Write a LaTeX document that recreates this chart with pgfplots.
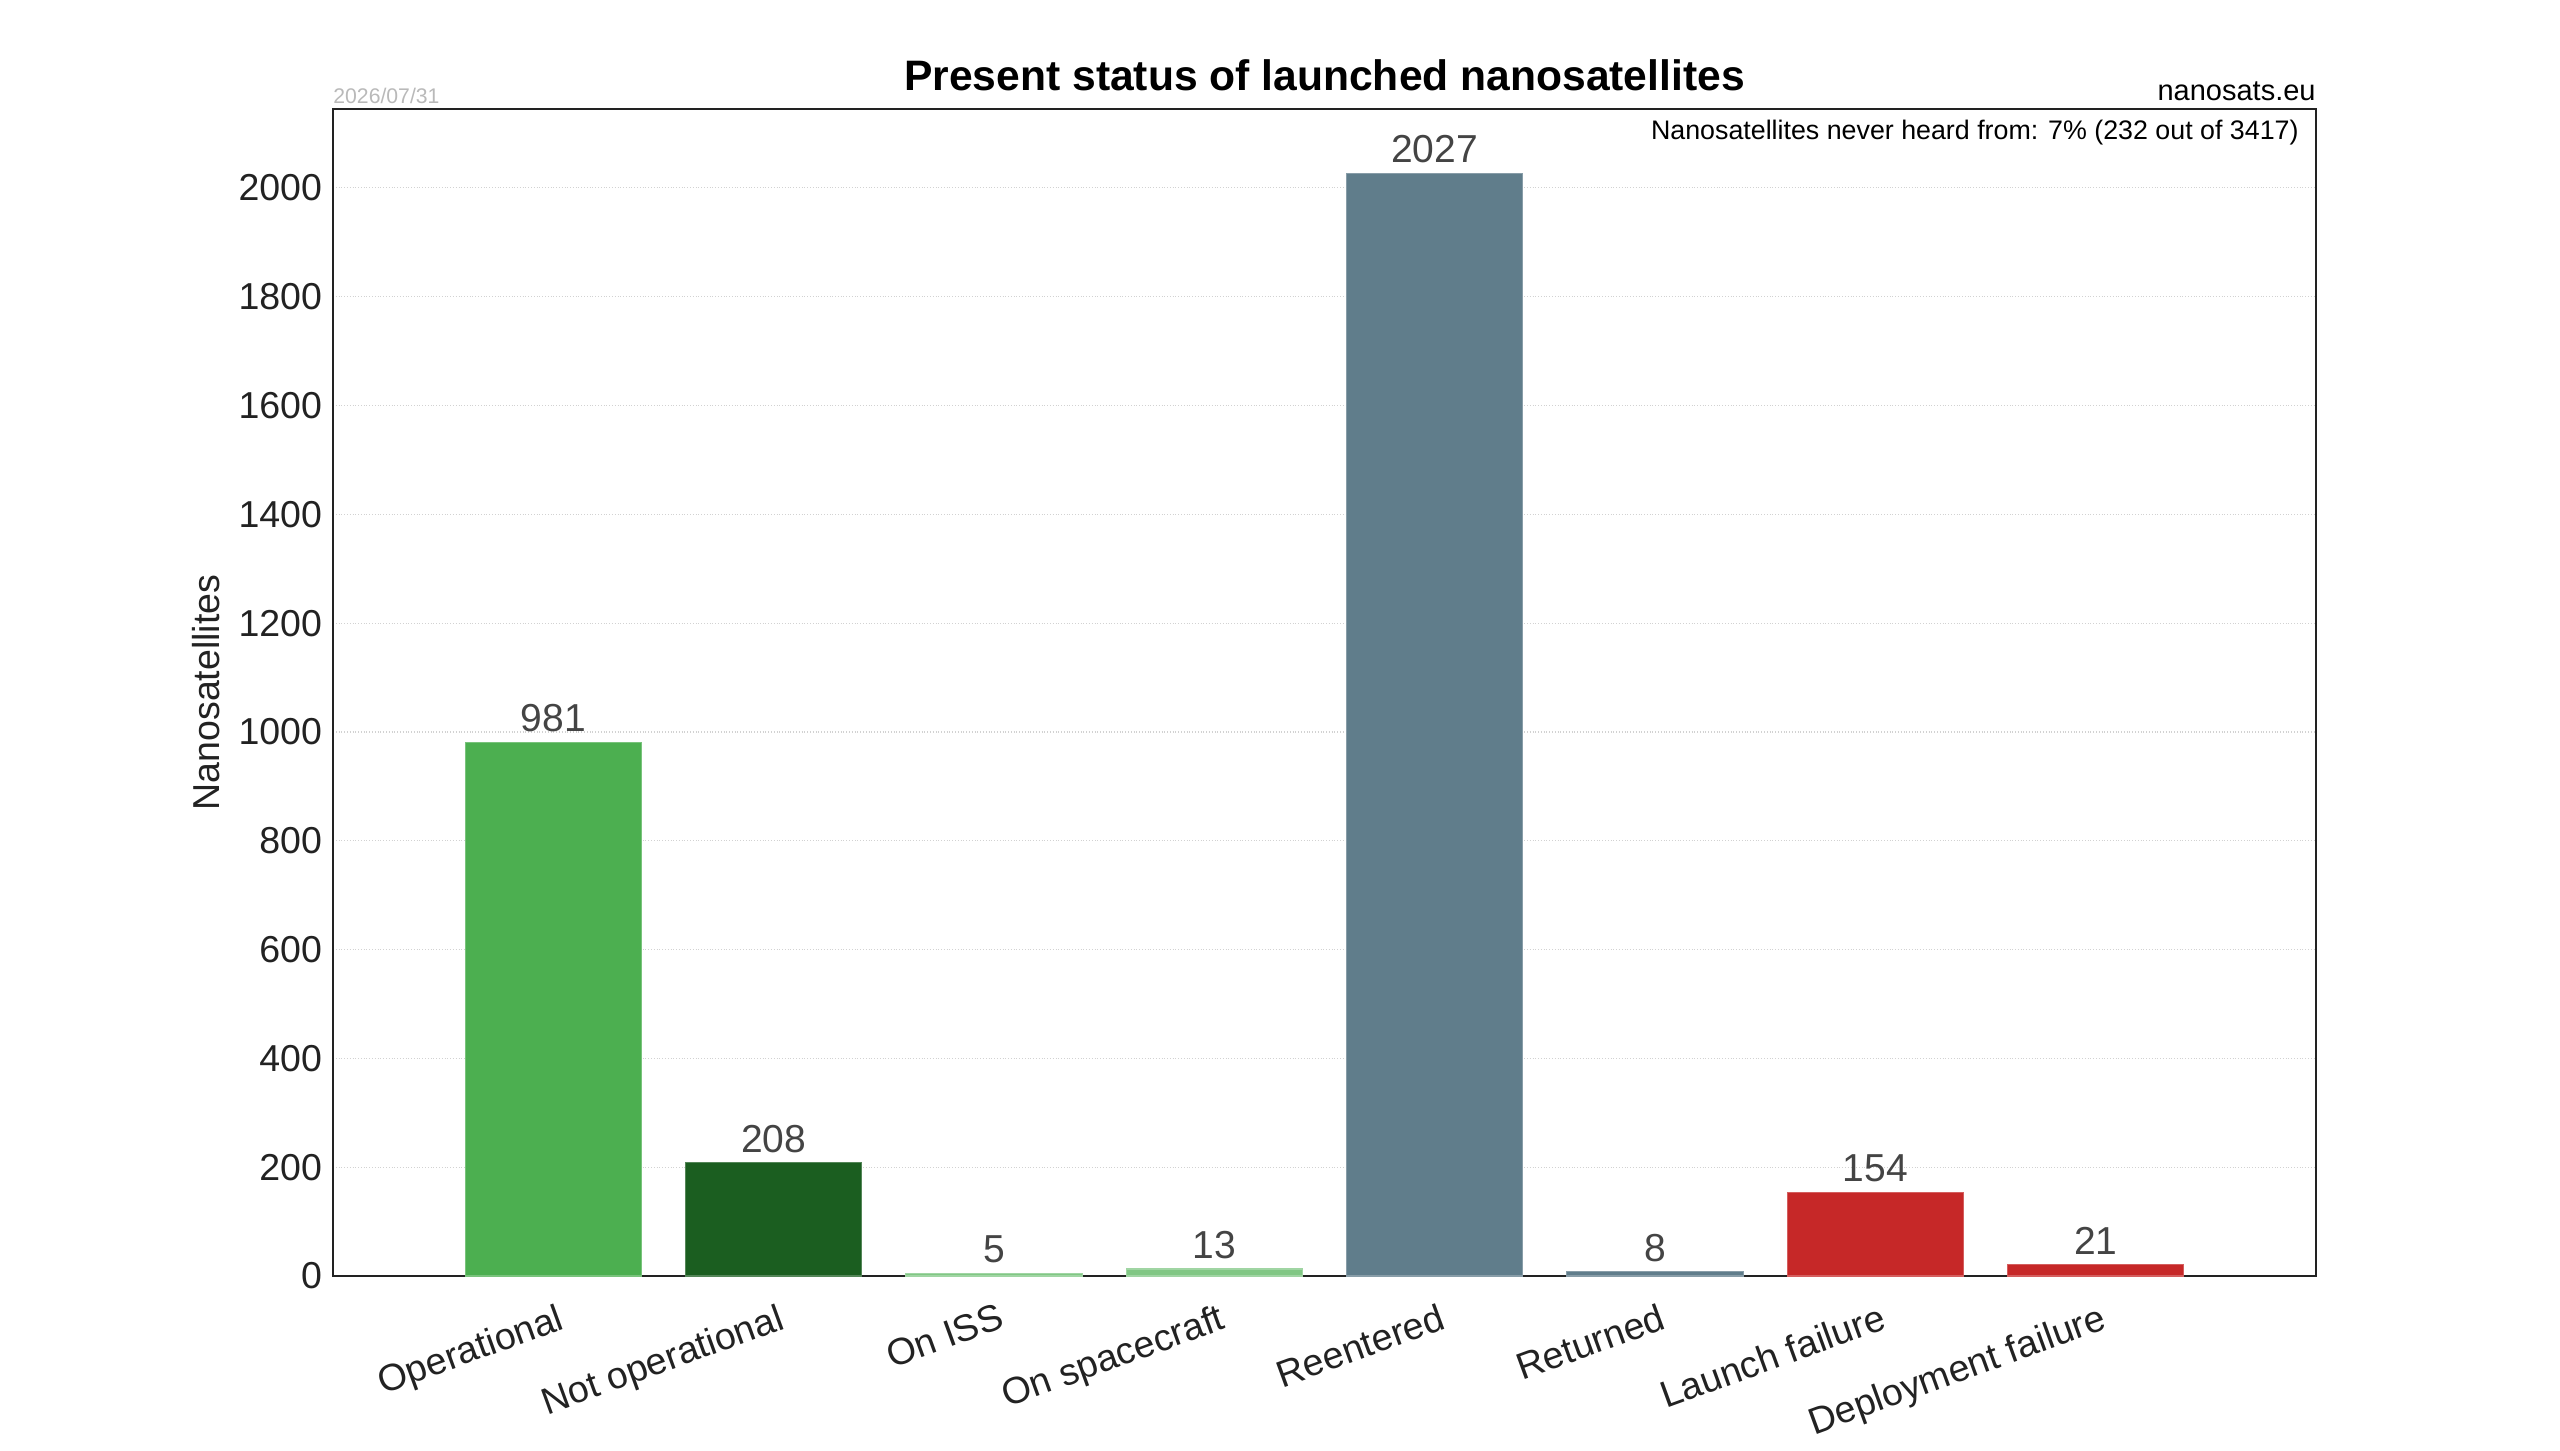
\documentclass[border=0pt]{standalone}
\usepackage{fontspec}
\setmainfont{Liberation Sans}
\usepackage{pgfplots}
\pgfplotsset{compat=1.18}
\usetikzlibrary{calc}
\definecolor{cop}{HTML}{4CAF50}
\definecolor{cnop}{HTML}{1B5E20}
\definecolor{clg}{HTML}{81C784}
\definecolor{cre}{HTML}{607D8B}
\definecolor{cfail}{HTML}{C62828}
\definecolor{txt}{HTML}{222222}
\definecolor{vtxt}{HTML}{444444}
\newcommand{\fs}[1]{\fontsize{#1}{1.2\dimexpr#1\relax}\selectfont}
\begin{document}
\begin{tikzpicture}
\begin{axis}[
  name=ax,
  at={(0,0)}, anchor=south west,
  scale only axis,
  width=991.5bp, height=583.5bp,
  xmin=-1, xmax=8,
  ymin=0, ymax=2145,
  ytick={0,200,...,2000},
  xtick={0,...,7},
  xticklabels={Operational,Not operational,On ISS,On spacecraft,Reentered,Returned,Launch failure,Deployment failure},
  major tick length=0pt,
  ymajorgrids,
  major grid style={densely dotted, gray!35, line width=0.6bp},
  axis line style={draw=txt, line width=1bp},
  /pgf/number format/assume math mode=true,
  /pgf/number format/1000 sep={},
  yticklabel style={font=\fs{18.75bp}, text=txt, xshift=-2bp},
  xticklabel style={font=\fs{18.75bp}, text=txt, rotate=20, anchor=north east, xshift=0.4bp, yshift=-9.5bp},
  ylabel={Nanosatellites},
  every axis y label/.style={at={(rel axis cs:0,0.5)}, rotate=90, anchor=center, yshift=63.5bp, font=\fs{18.75bp}, text=txt},
  ybar, bar width=0.8, bar shift=0pt,
  nodes near coords,
  every node near coord/.append style={font=\fs{19.5bp}, text=vtxt, yshift=1.5bp},
  clip=false,
]
\addplot[fill=cop, draw=cop!75!white, line width=0.6bp] coordinates {(0,981)};
\addplot[fill=cnop, draw=cnop!75!white, line width=0.6bp] coordinates {(1,208)};
\addplot[fill=clg, draw=clg!75!white, line width=0.6bp] coordinates {(2,5)};
\addplot[fill=clg, draw=clg!75!white, line width=0.6bp] coordinates {(3,13)};
\addplot[fill=cre, draw=cre!75!white, line width=0.6bp] coordinates {(4,2027)};
\addplot[fill=cre, draw=cre!75!white, line width=0.6bp] coordinates {(5,8)};
\addplot[fill=cfail, draw=cfail!75!white, line width=0.6bp] coordinates {(6,154)};
\addplot[fill=cfail, draw=cfail!75!white, line width=0.6bp] coordinates {(7,21)};
\end{axis}
\node[font=\bfseries\fs{21.3bp}, anchor=center] at ($(ax.north)+(0,17bp)$) {Present status of launched nanosatellites};
\node[font=\fs{14.5bp}, anchor=base east, inner sep=0pt] at ($(ax.north east)+(0,4bp)$) {nanosats.eu};
\node[font=\fs{10.6bp}, text=gray!55, anchor=base west, inner sep=0pt] at ($(ax.north west)+(0,2.5bp)$) {2026/07/31};
\node[font=\fs{13.4bp}, anchor=east, inner sep=0pt] at ($(ax.north east)+(-8.5bp,-12bp)$) {Nanosatellites never heard from: 7\% (232 out of 3417)};
\path[use as bounding box] ($(ax.south west)+(-166.5bp,-82bp)$) rectangle ($(ax.north east)+(122bp,54.5bp)$);
\end{tikzpicture}
\end{document}
